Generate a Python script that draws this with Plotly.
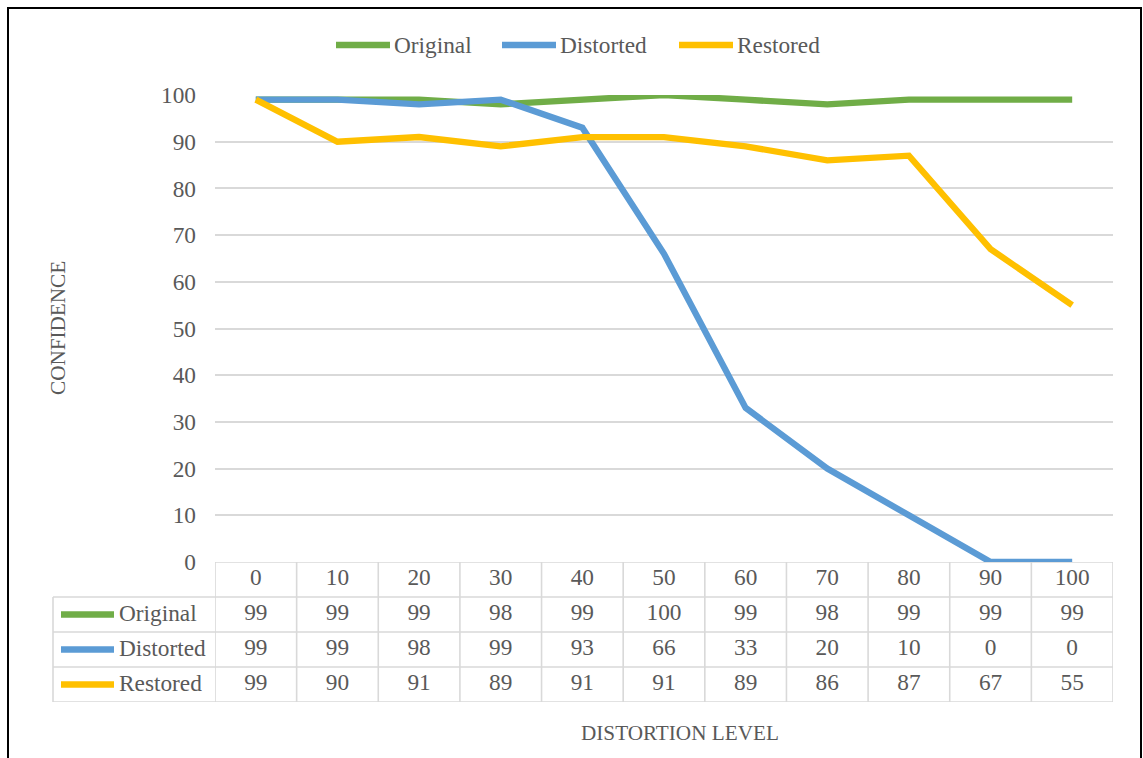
import plotly.graph_objects as go

# ---- data ----
levels = [0, 10, 20, 30, 40, 50, 60, 70, 80, 90, 100]
series_names = ["Original", "Distorted", "Restored"]
original = [99, 99, 99, 98, 99, 100, 99, 98, 99, 99, 99]
distorted = [99, 99, 98, 99, 93, 66, 33, 20, 10, 0, 0]
restored = [99, 90, 91, 89, 91, 91, 89, 86, 87, 67, 55]
y_ticks = list(range(0, 101, 10))
x_title = "DISTORTION LEVEL"
y_title = "CONFIDENCE"

series_values = [original, distorted, restored]
colors = ["#70AD47", "#5B9BD5", "#FFC000"]
text_color = "#595959"
grid_color = "#D9D9D9"
font_family = "Liberation Serif, Times New Roman, serif"
label_size = 23.3
title_size = 21.2

# ---- page geometry (pixels) ----
W, H = 1143, 758
L, R, T, B = 215, 30, 95, 56
PW, PH = W - L - R, H - T - B
table_h = 140
split = table_h / PH


def px_x(p):
    return (p - L) / PW


def px_y(p):
    return (H - B - p) / PH


fig = go.Figure()

# line series
for name, vals, col in zip(series_names, series_values, colors):
    fig.add_trace(go.Scatter(
        x=levels, y=vals, mode="lines", name=name,
        line=dict(color=col, width=6.3), showlegend=False,
        xaxis="x", yaxis="y", hoverinfo="x+y+name",
    ))

# data table: header row (3) then one row per series (2, 1, 0)
n_rows = len(series_names) + 1
tx, ty, tt = [], [], []
for lv in levels:
    tx.append(lv)
    ty.append(n_rows - 1)
    tt.append(str(lv))
for r, vals in enumerate(series_values):
    row_y = n_rows - 2 - r
    for lv, v in zip(levels, vals):
        tx.append(lv)
        ty.append(row_y)
        tt.append(str(v))
fig.add_trace(go.Scatter(
    x=tx, y=ty, text=tt, mode="text", showlegend=False,
    textfont=dict(family=font_family, size=label_size, color=text_color),
    xaxis="x2", yaxis="y2", hoverinfo="skip",
))

step = levels[1] - levels[0]
x_lo, x_hi = levels[0] - step / 2, levels[-1] + step / 2

shapes = []
# table horizontal borders
shapes.append(dict(type="line", xref="paper", yref="y2", x0=0, x1=1,
                   y0=n_rows - 0.5, y1=n_rows - 0.5,
                   line=dict(color=grid_color, width=1.6)))
for k in range(n_rows):
    yk = k - 0.5
    shapes.append(dict(type="line", xref="paper", yref="y2", x0=px_x(53), x1=1,
                       y0=yk, y1=yk, line=dict(color=grid_color, width=1.6)))
# table vertical borders
for lv in levels + [levels[-1] + step]:
    xv = lv - step / 2
    shapes.append(dict(type="line", xref="x2", yref="y2", x0=xv, x1=xv,
                       y0=-0.5, y1=n_rows - 0.5,
                       line=dict(color=grid_color, width=1.6)))
shapes.append(dict(type="line", xref="paper", yref="y2", x0=px_x(53), x1=px_x(53),
                   y0=-0.5, y1=n_rows - 1.5, line=dict(color=grid_color, width=1.6)))

annotations = []
# row headers with legend keys
for r, (name, col) in enumerate(zip(series_names, colors)):
    row_y = n_rows - 2 - r
    shapes.append(dict(type="line", xref="paper", yref="y2",
                       x0=px_x(61), x1=px_x(114), y0=row_y, y1=row_y,
                       line=dict(color=col, width=6.3)))
    annotations.append(dict(xref="paper", yref="y2", x=px_x(117), y=row_y,
                            text=name, showarrow=False, xanchor="left",
                            yanchor="middle", yshift=2,
                            font=dict(family=font_family, size=label_size,
                                      color=text_color)))

# top legend
legend_starts = [334, 500, 677]
for name, col, x0 in zip(series_names, colors, legend_starts):
    shapes.append(dict(type="line", xref="paper", yref="paper",
                       x0=px_x(x0 + 2), x1=px_x(x0 + 56), y0=px_y(45), y1=px_y(45),
                       line=dict(color=col, width=6.3)))
    annotations.append(dict(xref="paper", yref="paper", x=px_x(x0 + 58), y=px_y(45),
                            text=name, showarrow=False, xanchor="left",
                            yanchor="middle",
                            font=dict(family=font_family, size=label_size,
                                      color=text_color)))

# axis titles
annotations.append(dict(xref="paper", yref="paper", x=px_x(58), y=px_y(328),
                        text=y_title, textangle=-90, showarrow=False,
                        xanchor="center", yanchor="middle",
                        font=dict(family=font_family, size=title_size, color=text_color)))
annotations.append(dict(xref="paper", yref="paper", x=px_x(680), y=px_y(733),
                        text=x_title, showarrow=False,
                        xanchor="center", yanchor="middle",
                        font=dict(family=font_family, size=title_size, color=text_color)))

# outer frame
shapes.append(dict(type="rect", xref="paper", yref="paper",
                   x0=px_x(8), x1=px_x(1141), y0=px_y(820), y1=px_y(8),
                   line=dict(color="#000000", width=2), fillcolor="rgba(0,0,0,0)"))

fig.update_layout(
    width=W, height=H,
    margin=dict(l=L, r=R, t=T, b=B, pad=0),
    paper_bgcolor="white", plot_bgcolor="white",
    showlegend=False,
    xaxis=dict(domain=[0, 1], range=[x_lo, x_hi], anchor="y",
               showgrid=False, showticklabels=False, zeroline=False,
               showline=False, ticks=""),
    yaxis=dict(domain=[split, 1], range=[0, 100], anchor="x",
               tickvals=y_ticks, showgrid=True, gridcolor=grid_color,
               gridwidth=1.6, zeroline=False, showline=False, ticks="",
               ticklabelstandoff=18,
               tickfont=dict(family=font_family, size=label_size, color=text_color)),
    xaxis2=dict(domain=[0, 1], range=[x_lo, x_hi], anchor="y2",
                showgrid=False, showticklabels=False, zeroline=False,
                showline=False, ticks=""),
    yaxis2=dict(domain=[0, split], range=[-0.5, n_rows - 0.5], anchor="x2",
                showgrid=False, showticklabels=False, zeroline=False,
                showline=False, ticks=""),
    shapes=shapes,
    annotations=annotations,
)

fig.write_html("out.html")
